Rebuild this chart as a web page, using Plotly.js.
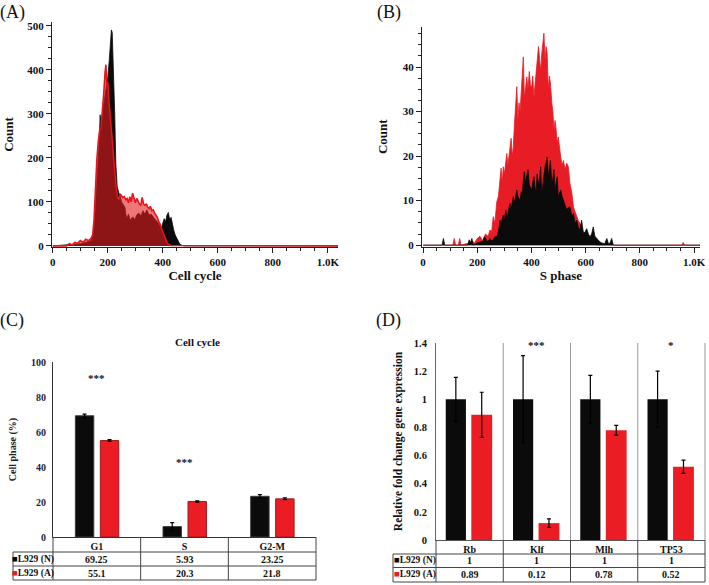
<!DOCTYPE html>
<html>
<head>
<meta charset="utf-8">
<script src="https://cdn.plot.ly/plotly-3.0.1.min.js"></script>
<style>html,body{margin:0;padding:0;background:#fff;}#chart{width:709px;height:585px;}</style>
</head>
<body>
<div id="chart"></div>
<script>
// ---------- Panel A: cell cycle histogram (channel vs count) ----------
const cycleN_x = [0, 60, 80, 100, 120, 140, 150, 155, 160, 165, 169, 172, 175, 180, 185, 190, 195, 200, 205, 210, 213, 216, 219, 222, 225, 229, 234, 240, 244, 250, 256, 262, 268, 275, 282, 290, 298, 305, 312, 320, 328, 335, 342, 350, 358, 365, 372, 380, 388, 395, 400, 405, 410, 415, 420, 425, 430, 435, 440, 445, 450, 455, 460, 465, 470, 480, 1037];
const cycleN_y = [0, 2, 4, 5, 8, 12, 40, 90, 150, 200, 240, 298, 275, 300, 320, 340, 360, 385, 420, 460, 491, 485, 438, 380, 302, 188, 135, 120, 116, 100, 95, 88, 62, 72, 58, 66, 60, 70, 75, 68, 80, 72, 82, 70, 72, 65, 60, 55, 45, 40, 52, 62, 55, 70, 76, 60, 65, 45, 35, 25, 18, 10, 6, 3, 1, 0, 0];
const cycleA_x = [0, 50, 60, 70, 80, 90, 100, 110, 120, 130, 140, 145, 150, 155, 160, 165, 170, 175, 180, 185, 190, 193, 196, 200, 204, 208, 212, 216, 220, 225, 230, 235, 240, 245, 250, 255, 260, 265, 270, 275, 280, 285, 290, 295, 300, 305, 310, 315, 320, 325, 330, 335, 340, 345, 350, 355, 360, 365, 370, 375, 380, 385, 390, 395, 400, 405, 410, 415, 420, 430, 1037];
const cycleA_y = [0, 0, 5, 2, 8, 6, 12, 8, 15, 12, 18, 25, 60, 140, 195, 235, 262, 268, 300, 345, 395, 412, 365, 372, 330, 300, 260, 230, 200, 170, 135, 112, 105, 118, 115, 110, 112, 105, 108, 98, 112, 100, 120, 105, 98, 108, 100, 95, 92, 110, 95, 92, 96, 88, 85, 90, 80, 82, 75, 70, 65, 55, 50, 40, 32, 22, 15, 8, 4, 1, 0];

// ---------- Panel B: S phase histogram ----------
const sN_x = [0, 70, 75, 80, 165, 170, 175, 180, 185, 200, 220, 227, 235, 240, 247, 253, 259, 265, 272, 278, 284, 288, 292, 296, 300, 305, 309, 313, 317, 321, 325, 329, 333, 337, 341, 346, 350, 354, 358, 362, 366, 370, 374, 378, 383, 387, 392, 396, 401, 405, 409, 413, 417, 421, 426, 430, 434, 438, 442, 446, 450, 454, 458, 462, 466, 470, 475, 479, 483, 487, 491, 495, 499, 503, 508, 513, 518, 524, 530, 536, 542, 549, 555, 561, 567, 573, 579, 585, 592, 598, 604, 610, 616, 622, 628, 634, 641, 647, 653, 660, 670, 678, 685, 690, 696, 702, 1022];
const sN_y = [0, 0, 1.5, 0, 0, 1.2, 0.5, 1.5, 0, 0.5, 0.8, 1.9, 1, 0.8, 1.5, 1, 1.2, 1.9, 1.9, 3, 5.6, 4.5, 6, 6.7, 5.5, 7.9, 6.5, 7, 8.5, 9.4, 8, 10, 10.9, 9.5, 11, 12.4, 11, 10.5, 10, 12, 11.5, 14.6, 16.5, 14, 15.4, 17, 13.5, 13, 12.4, 14, 15.4, 13, 12, 16, 13.5, 15, 17.6, 11.6, 14, 16, 17.6, 18.5, 19.8, 15.4, 17, 19, 13.9, 15, 17, 12.4, 14, 15.4, 10.9, 11.5, 12.4, 11, 10, 9, 7.9, 8.5, 8.6, 6.5, 7.1, 4.9, 5.6, 4, 3.4, 5.6, 2.6, 3, 3.7, 2.5, 1.9, 2.5, 4.1, 2, 1.5, 1, 0.7, 0.5, 0.3, 1.5, 0.2, 0.5, 1.5, 0, 0];
const sA_x = [0, 110, 115, 120, 130, 135, 140, 170, 180, 190, 200, 210, 220, 230, 240, 247, 253, 259, 265, 272, 278, 284, 288, 292, 296, 300, 305, 309, 313, 317, 321, 325, 329, 333, 337, 341, 346, 350, 354, 358, 362, 366, 370, 374, 378, 383, 387, 392, 396, 401, 405, 409, 413, 417, 421, 426, 430, 434, 438, 442, 446, 450, 454, 458, 462, 466, 470, 475, 479, 483, 487, 491, 495, 499, 503, 508, 513, 518, 524, 530, 536, 542, 549, 555, 561, 567, 573, 579, 586, 592, 598, 604, 612, 620, 630, 640, 955, 960, 965, 1022];
const sA_y = [0, 0, 1.5, 0, 0, 1.5, 0, 0.5, 1, 0.5, 1.5, 2, 1, 2.5, 2, 3.4, 3, 6.4, 5, 9.7, 11, 14.6, 17.3, 14, 17.6, 16, 19, 20.6, 18, 20.2, 23, 24, 20, 22, 27, 30, 35.6, 28, 32, 30, 34, 37, 42.3, 33, 36, 37.8, 35, 39, 36, 35.6, 38, 33, 36, 38.6, 40, 44.6, 42, 39, 43, 45, 47.6, 41.6, 44.6, 43, 34.8, 38, 36.4, 32, 30, 25.8, 28, 26, 23, 24.3, 22, 19.8, 18, 19, 17, 18.4, 17.6, 13.9, 11.7, 8.6, 7.5, 6.4, 5.5, 4.9, 4, 2.6, 2, 1, 0.8, 0.5, 0.3, 0, 0, 0.6, 0, 0];

// ---------- Panel C: cell phase percentages ----------
const phases = ['G1', 'S', 'G2-M'];
const phaseN = [69.25, 5.93, 23.25];
const phaseA = [55.1, 20.3, 21.8];
const phaseErrN = [1.0, 2.3, 1.0];
const phaseErrA = [0.5, 0.4, 0.5];
const phaseStars = ['***', '***', ''];
const phaseStarY = [91, 43, 0];

// ---------- Panel D: relative gene expression ----------
const genes = ['Rb', 'Klf', 'Mlh', 'TP53'];
const geneN = [1, 1, 1, 1];
const geneA = [0.89, 0.12, 0.78, 0.52];
const geneErrN = [0.155, 0.31, 0.17, 0.2];
const geneErrA = [0.16, 0.03, 0.035, 0.047];
const geneStars = ['', '***', '', '*'];

const seriesNames = ['L929 (N)', 'L929 (A)'];
const histTicks = [0, 200, 400, 600, 800, 1000];
const histTickText = ['0', '200', '400', '600', '800', '1.0K'];

// ---------- helpers (layout only) ----------
const W = 709, H = 585;
const X = px => px / W;
const Y = py => 1 - py / H;
const SERIF = 'Liberation Serif, Times New Roman, serif';
const BLACK = '#0b0b0b';
const RED = '#ec1c24';

const traces = [];
// A
traces.push({x: cycleN_x, y: cycleN_y, type: 'scatter', mode: 'lines', fill: 'tozeroy',
  line: {color: BLACK, width: 0.8}, fillcolor: BLACK, xaxis: 'x', yaxis: 'y', name: seriesNames[0], showlegend: false, hoverinfo: 'skip'});
traces.push({x: cycleA_x, y: cycleA_y, type: 'scatter', mode: 'lines', fill: 'tozeroy',
  line: {color: '#e8141c', width: 1.6}, fillcolor: 'rgba(228,28,28,0.6)', xaxis: 'x', yaxis: 'y', name: seriesNames[1], showlegend: false, hoverinfo: 'skip'});
// B
traces.push({x: sA_x, y: sA_y, type: 'scatter', mode: 'lines', fill: 'tozeroy',
  line: {color: '#e81c24', width: 0.8}, fillcolor: '#e81c24', xaxis: 'x2', yaxis: 'y2', name: seriesNames[1], showlegend: false, hoverinfo: 'skip'});
traces.push({x: sN_x, y: sN_y, type: 'scatter', mode: 'lines', fill: 'tozeroy',
  line: {color: BLACK, width: 0.8}, fillcolor: BLACK, xaxis: 'x2', yaxis: 'y2', name: seriesNames[0], showlegend: false, hoverinfo: 'skip'});
// C
traces.push({x: phases, y: phaseN, type: 'bar', name: seriesNames[0], width: 0.21, offset: -0.245,
  marker: {color: BLACK, line: {color: '#3a3a3a', width: 1}},
  error_y: {type: 'data', array: phaseErrN, color: '#000', thickness: 1.2, width: 2}, xaxis: 'x3', yaxis: 'y3', showlegend: false});
traces.push({x: phases, y: phaseA, type: 'bar', name: seriesNames[1], width: 0.21, offset: 0.04,
  marker: {color: RED, line: {color: '#9a1a1a', width: 1}},
  error_y: {type: 'data', array: phaseErrA, color: '#000', thickness: 1.2, width: 2}, xaxis: 'x3', yaxis: 'y3', showlegend: false});
// D
traces.push({x: genes, y: geneN, type: 'bar', name: seriesNames[0], width: 0.3, offset: -0.355, marker: {color: BLACK},
  error_y: {type: 'data', array: geneErrN, color: '#000', thickness: 1.2, width: 2}, xaxis: 'x4', yaxis: 'y4', showlegend: false});
traces.push({x: genes, y: geneA, type: 'bar', name: seriesNames[1], width: 0.31, offset: 0.025, marker: {color: RED},
  error_y: {type: 'data', array: geneErrA, color: '#000', thickness: 1.2, width: 2}, xaxis: 'x4', yaxis: 'y4', showlegend: false});

const tickFont = {family: SERIF, size: 11, color: '#111', weight: 'bold'};
const titleFont = {family: SERIF, size: 13, color: '#111', weight: 'bold'};
const histAxisCommon = {showline: true, linecolor: '#222', linewidth: 1, ticks: 'outside', ticklen: 5, tickcolor: '#222',
  showgrid: false, zeroline: false, tickfont: tickFont, fixedrange: true};

const layout = {
  width: W, height: H, margin: {l: 0, r: 0, t: 0, b: 0}, paper_bgcolor: '#fff', plot_bgcolor: 'rgba(0,0,0,0)',
  showlegend: false, barmode: 'overlay',
  xaxis: Object.assign({}, histAxisCommon, {domain: [X(52), X(338)], range: [-3, 1037], anchor: 'y',
    tickvals: histTicks, ticktext: histTickText, minor: {dtick: 50, tick0: 0, ticks: 'outside', ticklen: 3, tickcolor: '#222'},
    title: {text: 'Cell cycle', font: titleFont, standoff: 2}}),
  yaxis: Object.assign({}, histAxisCommon, {domain: [Y(247), Y(22)], range: [-2.5, 509], anchor: 'x',
    dtick: 100, tick0: 0, minor: {dtick: 25, ticks: 'outside', ticklen: 3, tickcolor: '#222'},
    title: {text: 'Count', font: titleFont, standoff: 10}}),
  xaxis2: Object.assign({}, histAxisCommon, {domain: [X(422), X(700)], range: [-4, 1022], anchor: 'y2',
    tickvals: histTicks, ticktext: histTickText, minor: {dtick: 50, tick0: 0, ticks: 'outside', ticklen: 3, tickcolor: '#222'},
    title: {text: 'S phase', font: titleFont, standoff: 2}}),
  yaxis2: Object.assign({}, histAxisCommon, {domain: [Y(246.5), Y(27)], range: [-0.3, 49], anchor: 'x2',
    dtick: 10, tick0: 0, minor: {dtick: 2.5, ticks: 'outside', ticklen: 3, tickcolor: '#222'},
    title: {text: 'Count', font: titleFont, standoff: 12}}),
  xaxis3: {domain: [X(53), X(316)], anchor: 'y3', type: 'category', range: [-0.5, 2.5], showline: true, linecolor: '#333', linewidth: 1,
    ticks: '', showgrid: false, zeroline: false, tickfont: {family: SERIF, size: 10, color: '#111', weight: 'bold'}, fixedrange: true},
  yaxis3: {domain: [Y(537), Y(362)], anchor: 'x3', range: [0, 100], dtick: 20, showline: true, linecolor: '#333', linewidth: 1,
    ticks: 'outside', ticklen: 4, tickcolor: 'rgba(0,0,0,0)', showgrid: false, zeroline: false,
    tickfont: {family: SERIF, size: 10, color: '#1c1c3a', weight: 'bold'}, fixedrange: true,
    title: {text: 'Cell phase (%)', font: {family: SERIF, size: 10, color: '#222', weight: 'bold'}, standoff: 12}},
  xaxis4: {domain: [X(436), X(705)], anchor: 'y4', type: 'category', range: [-0.5, 3.5], showline: true, linecolor: '#555', linewidth: 1,
    ticks: '', showgrid: false, zeroline: false, tickfont: {family: SERIF, size: 10, color: '#111', weight: 'bold'}, fixedrange: true},
  yaxis4: {domain: [Y(540), Y(343)], anchor: 'x4', range: [0, 1.4], dtick: 0.2, showline: true, linecolor: '#666', linewidth: 1,
    ticks: 'outside', ticklen: 6, tickcolor: 'rgba(0,0,0,0)', showgrid: false, zeroline: false,
    tickfont: {family: SERIF, size: 10.5, color: '#111', weight: 'bold'}, fixedrange: true,
    title: {text: 'Relative fold change gene expression', font: {family: SERIF, size: 11.5, color: '#111', weight: 'bold'}, standoff: 8}},
  shapes: [], annotations: []
};

function ann(o) { return Object.assign({showarrow: false, xanchor: 'center', yanchor: 'middle'}, o); }

// Panel labels
[['(A)', 12, 12], ['(B)', 389, 12], ['(C)', 12, 320], ['(D)', 388, 320]].forEach(([t, px, py]) => {
  layout.annotations.push(ann({text: t, xref: 'paper', yref: 'paper', x: X(px), y: Y(py),
    font: {family: SERIF, size: 18, color: '#111'}}));
});
// Panel C title
layout.annotations.push(ann({text: 'Cell cycle', xref: 'paper', yref: 'paper', x: X(197), y: Y(342),
  font: {family: SERIF, size: 11, color: '#111', weight: 'bold'}}));

// Significance stars
phases.forEach((p, i) => { if (phaseStars[i]) layout.annotations.push(ann({text: phaseStars[i], x: p, y: phaseStarY[i], xref: 'x3', yref: 'y3',
  font: {family: SERIF, size: 11, color: '#111', weight: 'bold'}})); });
genes.forEach((g, i) => { if (geneStars[i]) layout.annotations.push(ann({text: geneStars[i], x: g, y: 1.385, xref: 'x4', yref: 'y4',
  font: {family: SERIF, size: 11, color: '#111', weight: 'bold'}})); });

// Data tables under the bar charts
function addTable(xref, cats, rowsVals, rowTop, rowH, legLeftFrac, lineColor) {
  const n = cats.length;
  const rowsY = [rowTop, rowTop + rowH[0], rowTop + rowH[0] + rowH[1], rowTop + rowH[0] + rowH[1] + rowH[2]];
  const dom = xref + ' domain';
  const L = (x0, y0, x1, y1, c) => layout.shapes.push({type: 'line', xref: dom, yref: 'paper', x0, x1, y0: Y(y0), y1: Y(y1),
    line: {color: c || lineColor, width: 1}});
  L(legLeftFrac, rowsY[1], 1, rowsY[1]);
  L(legLeftFrac, rowsY[2], 1, rowsY[2]);
  L(legLeftFrac, rowsY[3], 1, rowsY[3]);
  L(legLeftFrac, rowsY[1], legLeftFrac, rowsY[3]);
  for (let k = 0; k <= n; k++) L(k / n, rowsY[0], k / n, rowsY[3]);
  rowsVals.forEach((vals, r) => {
    const cy = (rowsY[r + 1] + rowsY[r + 2]) / 2;
    cats.forEach((c, i) => layout.annotations.push(ann({text: String(vals[i]), x: c, xref: xref, y: Y(cy), yref: 'paper',
      font: {family: SERIF, size: 10, color: '#111', weight: 'bold'}})));
    const col = r === 0 ? BLACK : RED;
    layout.annotations.push(ann({text: '<span style="color:' + col + '">■</span>' + seriesNames[r], x: legLeftFrac / 2, xref: dom,
      y: Y(cy), yref: 'paper', font: {family: SERIF, size: 9.5, color: '#111', weight: 'bold'}}));
  });
}
addTable('x3', phases, [phaseN, phaseA], 537, [15, 14, 14], -40 / 263, '#444');
addTable('x4', genes, [geneN, geneA], 540, [14, 13.5, 14.5], -43 / 269, '#444');

// Panel D vertical separators within the plot area
for (let k = 1; k <= genes.length; k++) {
  layout.shapes.push({type: 'line', xref: 'x4 domain', yref: 'y4 domain', x0: k / genes.length, x1: k / genes.length, y0: 0, y1: 1,
    line: {color: '#9a9a9a', width: 1}});
}

Plotly.newPlot('chart', traces, layout, {displayModeBar: false, staticPlot: true});
</script>
</body>
</html>
